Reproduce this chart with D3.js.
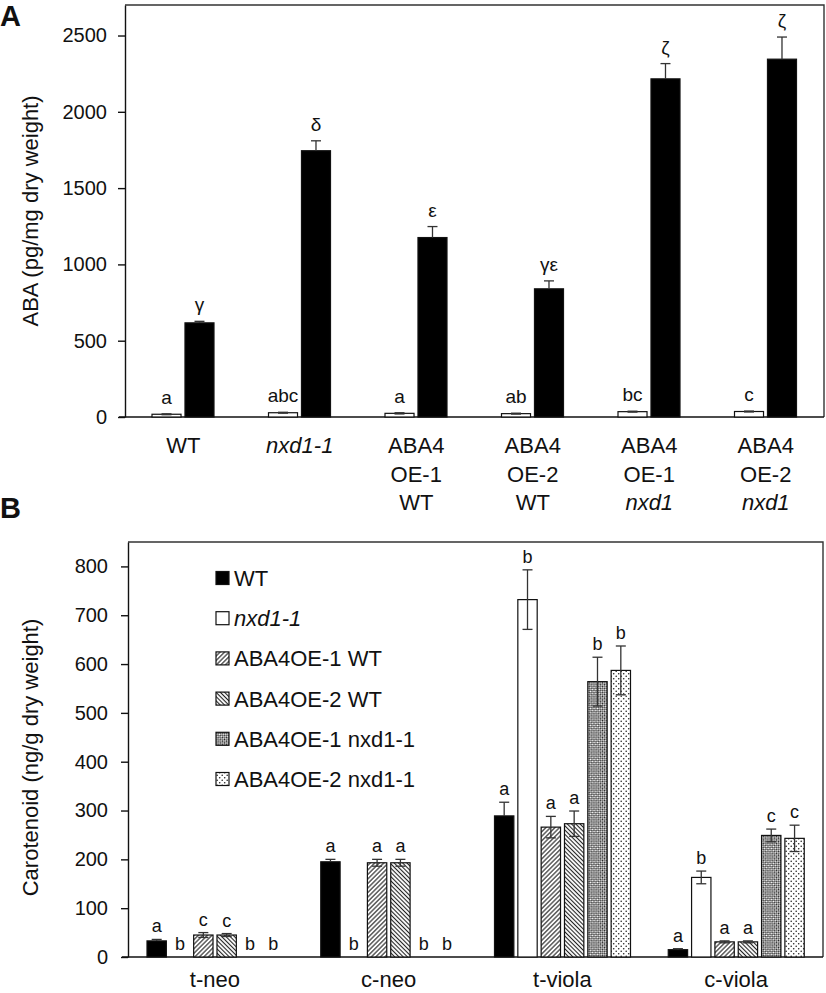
<!DOCTYPE html>
<html>
<head>
<meta charset="utf-8">
<script src="https://cdn.jsdelivr.net/npm/d3@7"></script>
<style>
body { margin: 0; background: #fff; }
svg text { font-family: "Liberation Sans", Arial, sans-serif; fill: #111; }
.axis path, .axis line { stroke: #111; stroke-width: 1.4; }
.baseline { stroke: #111; stroke-width: 1.4; }
.frame { fill: none; stroke: #333; stroke-width: 1.4; }
.err { stroke: #333; stroke-width: 1.3; }
.bar { stroke: #111; stroke-width: 1.2; }
</style>
</head>
<body>
<div id="chart"></div>
<script>
// ---------- PANEL A data
const abaGroups = ['WT', 'nxd1-1', 'ABA4 OE-1 WT', 'ABA4 OE-2 WT', 'ABA4 OE-1 nxd1', 'ABA4 OE-2 nxd1'];
const abaGroupLines = [['WT'], ['nxd1-1'], ['ABA4', 'OE-1', 'WT'], ['ABA4', 'OE-2', 'WT'], ['ABA4', 'OE-1', 'nxd1'], ['ABA4', 'OE-2', 'nxd1']];
const abaWhite = [18, 28, 24, 22, 35, 36];
const abaWhiteErr = [3, 3, 4, 3, 3, 3];
const abaWhiteLetters = ['a', 'abc', 'a', 'ab', 'bc', 'c'];
const abaBlack = [617, 1745, 1176, 840, 2216, 2345];
const abaBlackErr = [10, 65, 72, 52, 100, 145];
const abaBlackLetters = ['γ', 'δ', 'ε', 'γε', 'ζ', 'ζ'];
const abaTicks = [0, 500, 1000, 1500, 2000, 2500];

// ---------- PANEL B data
const carCategories = ['t-neo', 'c-neo', 't-viola', 'c-viola'];
const carSeries = ['WT', 'nxd1-1', 'ABA4OE-1 WT', 'ABA4OE-2 WT', 'ABA4OE-1 nxd1-1', 'ABA4OE-2 nxd1-1'];
const carWT = [33, 195, 289, 15];
const carWTErr = [3, 5, 28, 2];
const carNxd1 = [0, 0, 732, 163];
const carNxd1Err = [0, 0, 61, 13];
const carOE1WT = [45, 193, 266, 31];
const carOE1WTErr = [5, 7, 22, 2];
const carOE2WT = [45, 193, 273, 31];
const carOE2WTErr = [3, 7, 26, 2];
const carOE1Nxd1 = [0, 0, 564, 249];
const carOE1Nxd1Err = [0, 0, 50, 13];
const carOE2Nxd1 = [0, 0, 587, 243];
const carOE2Nxd1Err = [0, 0, 50, 27];
const carLetters = [
    ['a', 'a', 'a', 'a'],
    ['b', 'b', 'b', 'b'],
    ['c', 'a', 'a', 'a'],
    ['c', 'a', 'a', 'a'],
    ['b', 'b', 'b', 'c'],
    ['b', 'b', 'b', 'c']
];
const carTicks = [0, 100, 200, 300, 400, 500, 600, 700, 800];

const italicWords = ['nxd1-1', 'nxd1'];

const W = 826, H = 993;
const svg = d3.select('#chart').append('svg')
    .attr('width', W).attr('height', H)
    .attr('viewBox', '0 0 ' + W + ' ' + H);

// PATTERNS
const defs = svg.append('defs');

function linePattern(id, angle, size) {
    let p = defs.append('pattern')
        .attr('id', id)
        .attr('patternUnits', 'userSpaceOnUse')
        .attr('width', size).attr('height', size)
        .attr('patternTransform', 'rotate(' + angle + ')');
    p.append('rect').attr('width', size).attr('height', size).attr('fill', '#fff');
    p.append('line')
        .attr('x1', size / 2).attr('x2', size / 2)
        .attr('y1', 0).attr('y2', size)
        .attr('stroke', '#222').attr('stroke-width', 1.1);
}
linePattern('hatchFwd', 45, 3.2);
linePattern('hatchBack', -45, 3.0);

let cross = defs.append('pattern')
    .attr('id', 'cross')
    .attr('patternUnits', 'userSpaceOnUse')
    .attr('width', 3).attr('height', 3)
    .attr('patternTransform', 'rotate(45)');
cross.append('rect').attr('width', 3).attr('height', 3).attr('fill', '#fff');
cross.append('rect').attr('width', 1.5).attr('height', 1.5).attr('fill', '#222');
cross.append('rect').attr('x', 1.5).attr('y', 1.5).attr('width', 1.5).attr('height', 1.5).attr('fill', '#222');

let dots = defs.append('pattern')
    .attr('id', 'dots')
    .attr('patternUnits', 'userSpaceOnUse')
    .attr('width', 5).attr('height', 5);
dots.append('rect').attr('width', 5).attr('height', 5).attr('fill', '#fff');
dots.append('circle').attr('cx', 1.2).attr('cy', 1.2).attr('r', 0.8).attr('fill', '#222');
dots.append('circle').attr('cx', 3.7).attr('cy', 3.7).attr('r', 0.8).attr('fill', '#222');

const carFills = ['#000', '#fff', 'url(#hatchFwd)', 'url(#hatchBack)', 'url(#cross)', 'url(#dots)'];

// error bars; the part inside a black bar is not drawn (it is hidden there)
function drawErrors(g, rows, x, y, cap) {
    let low = function(d){ return d.fill === '#000' ? d.value : d.value - d.err; };
    let e = g.selectAll('.errbar').data(rows.filter(function(d){ return d.err > 0; }))
        .enter().append('g').attr('class', 'errbar');
    e.append('line').attr('class', 'err')
        .attr('x1', function(d){ return x(d); }).attr('x2', function(d){ return x(d); })
        .attr('y1', function(d){ return y(low(d)); })
        .attr('y2', function(d){ return y(d.value + d.err); });
    e.append('line').attr('class', 'err')
        .attr('x1', function(d){ return x(d) - cap; }).attr('x2', function(d){ return x(d) + cap; })
        .attr('y1', function(d){ return y(d.value + d.err); })
        .attr('y2', function(d){ return y(d.value + d.err); });
    e.filter(function(d){ return d.fill !== '#000'; })
        .append('line').attr('class', 'err')
        .attr('x1', function(d){ return x(d) - cap; }).attr('x2', function(d){ return x(d) + cap; })
        .attr('y1', function(d){ return y(d.value - d.err); })
        .attr('y2', function(d){ return y(d.value - d.err); });
}

// ================= PANEL A
function drawPanelA() {
    const cfg = {left: 125, right: 824, top: 5, bottom: 417, yMax: 2700};
    const x0 = d3.scaleBand().domain(abaGroups).range([cfg.left, cfg.right]);
    const x1 = d3.scaleBand().domain(['white', 'black']).range([27, 89]).paddingInner(0.12);
    const y = d3.scaleLinear().domain([0, cfg.yMax]).range([cfg.bottom, cfg.top]);

    let rows = [];
    abaGroups.forEach(function(gname, i){
        rows.push({group: gname, key: 'white', value: abaWhite[i], err: abaWhiteErr[i], letter: abaWhiteLetters[i], fill: '#fff'});
        rows.push({group: gname, key: 'black', value: abaBlack[i], err: abaBlackErr[i], letter: abaBlackLetters[i], fill: '#000'});
    });

    let g = svg.append('g').attr('class', 'panel-a');

    g.append('text').text('A')
        .attr('x', 0).attr('y', 26)
        .style('font-size', '29px').style('font-weight', 'bold');

    // FRAME
    g.append('path').attr('class', 'frame')
        .attr('d', 'M' + cfg.left + ',' + cfg.top + 'H' + cfg.right + 'V' + cfg.bottom);

    // AXIS
    g.append('g').attr('class', 'axis')
        .attr('transform', 'translate(' + cfg.left + ',0)')
        .call(d3.axisLeft(y).tickValues(abaTicks).tickFormat(d3.format('d'))
            .tickSize(7).tickPadding(11).tickSizeOuter(0))
        .attr('font-size', 20);

    g.append('line').attr('class', 'baseline')
        .attr('x1', cfg.left - 6).attr('x2', cfg.right)
        .attr('y1', y(0)).attr('y2', y(0));

    g.append('text')
        .attr('transform', 'translate(38,' + ((cfg.top + cfg.bottom) / 2) + ') rotate(-90)')
        .attr('text-anchor', 'middle')
        .style('font-size', '22px')
        .text('ABA (pg/mg dry weight)');

    // BARS
    let bx = function(d){ return x0(d.group) + x1(d.key); };
    g.selectAll('.bar').data(rows).enter().append('rect')
        .attr('class', 'bar')
        .attr('x', bx)
        .attr('y', function(d){ return y(d.value); })
        .attr('width', x1.bandwidth())
        .attr('height', function(d){ return y(0) - y(d.value); })
        .attr('fill', function(d){ return d.fill; });

    drawErrors(g, rows, function(d){ return bx(d) + x1.bandwidth() / 2; }, y, 5);

    g.selectAll('.letter').data(rows).enter().append('text')
        .attr('class', 'letter')
        .attr('x', function(d){ return bx(d) + x1.bandwidth() / 2; })
        .attr('y', function(d){ return y(d.value + d.err) - 10; })
        .attr('text-anchor', 'middle')
        .style('font-size', '19px')
        .text(function(d){ return d.letter; });

    // X LABELS
    let lab = g.selectAll('.xlab').data(abaGroups).enter().append('text')
        .attr('class', 'xlab')
        .attr('text-anchor', 'middle')
        .style('font-size', '22px');
    lab.each(function(gname, i){
        let t = d3.select(this);
        abaGroupLines[i].forEach(function(line, k){
            t.append('tspan')
                .attr('x', x0(gname) + x0.bandwidth() / 2)
                .attr('y', 453 + k * 28.5)
                .style('font-style', italicWords.indexOf(line) >= 0 ? 'italic' : 'normal')
                .text(line);
        });
    });
}

// ================= PANEL B
function drawPanelB() {
    const cfg = {left: 128, right: 823, top: 542, bottom: 957, yMax: 850};
    const values = [carWT, carNxd1, carOE1WT, carOE2WT, carOE1Nxd1, carOE2Nxd1];
    const errs = [carWTErr, carNxd1Err, carOE1WTErr, carOE2WTErr, carOE1Nxd1Err, carOE2Nxd1Err];

    const x0 = d3.scaleBand().domain(carCategories).range([cfg.left, cfg.right]);
    const x1 = d3.scaleBand().domain(carSeries).range([19, 155]).paddingInner(0.17);
    const y = d3.scaleLinear().domain([0, cfg.yMax]).range([cfg.bottom, cfg.top]);

    let rows = [];
    carSeries.forEach(function(s, si){
        carCategories.forEach(function(c, ci){
            rows.push({cat: c, series: s, value: values[si][ci], err: errs[si][ci], letter: carLetters[si][ci], fill: carFills[si]});
        });
    });

    let g = svg.append('g').attr('class', 'panel-b');

    g.append('text').text('B')
        .attr('x', 0).attr('y', 518)
        .style('font-size', '29px').style('font-weight', 'bold');

    // FRAME
    g.append('path').attr('class', 'frame')
        .attr('d', 'M' + cfg.left + ',' + cfg.top + 'H' + cfg.right + 'V' + cfg.bottom);

    // AXIS
    g.append('g').attr('class', 'axis')
        .attr('transform', 'translate(' + cfg.left + ',0)')
        .call(d3.axisLeft(y).tickValues(carTicks).tickFormat(d3.format('d'))
            .tickSize(7).tickPadding(13).tickSizeOuter(0))
        .attr('font-size', 20);

    g.append('line').attr('class', 'baseline')
        .attr('x1', cfg.left - 6).attr('x2', cfg.right)
        .attr('y1', y(0)).attr('y2', y(0));

    g.append('text')
        .attr('transform', 'translate(38,' + ((cfg.top + cfg.bottom) / 2 + 8) + ') rotate(-90)')
        .attr('text-anchor', 'middle')
        .style('font-size', '22px')
        .text('Carotenoid (ng/g dry weight)');

    // BARS
    let bx = function(d){ return x0(d.cat) + x1(d.series); };
    g.selectAll('.bar').data(rows.filter(function(d){ return d.value > 0; })).enter().append('rect')
        .attr('class', 'bar')
        .attr('x', bx)
        .attr('y', function(d){ return y(d.value); })
        .attr('width', x1.bandwidth())
        .attr('height', function(d){ return y(0) - y(d.value); })
        .attr('fill', function(d){ return d.fill; });

    drawErrors(g, rows, function(d){ return bx(d) + x1.bandwidth() / 2; }, y, 5);

    g.selectAll('.letter').data(rows).enter().append('text')
        .attr('class', 'letter')
        .attr('x', function(d){ return bx(d) + x1.bandwidth() / 2; })
        .attr('y', function(d){ return y(d.value + d.err) - 7; })
        .attr('text-anchor', 'middle')
        .style('font-size', '18px')
        .text(function(d){ return d.letter; });

    // X LABELS
    g.selectAll('.xlab').data(carCategories).enter().append('text')
        .attr('class', 'xlab')
        .attr('x', function(d){ return x0(d) + x0.bandwidth() / 2; })
        .attr('y', 987)
        .attr('text-anchor', 'middle')
        .style('font-size', '22px')
        .text(function(d){ return d; });

    // LEGEND
    let leg = g.selectAll('.legend').data(carSeries).enter().append('g')
        .attr('class', 'legend')
        .attr('transform', function(d, i){ return 'translate(216,' + (578 + i * 40.2) + ')'; });
    leg.append('rect')
        .attr('x', 0).attr('y', -6.5)
        .attr('width', 13).attr('height', 13)
        .attr('fill', function(d, i){ return carFills[i]; })
        .attr('stroke', '#111').attr('stroke-width', 1.2);
    leg.append('text')
        .attr('x', 18).attr('y', 8)
        .style('font-size', '22px')
        .style('font-style', function(d, i){ return i === 1 ? 'italic' : 'normal'; })
        .text(function(d){ return d; });
}

drawPanelA();
drawPanelB();
</script>
</body>
</html>
